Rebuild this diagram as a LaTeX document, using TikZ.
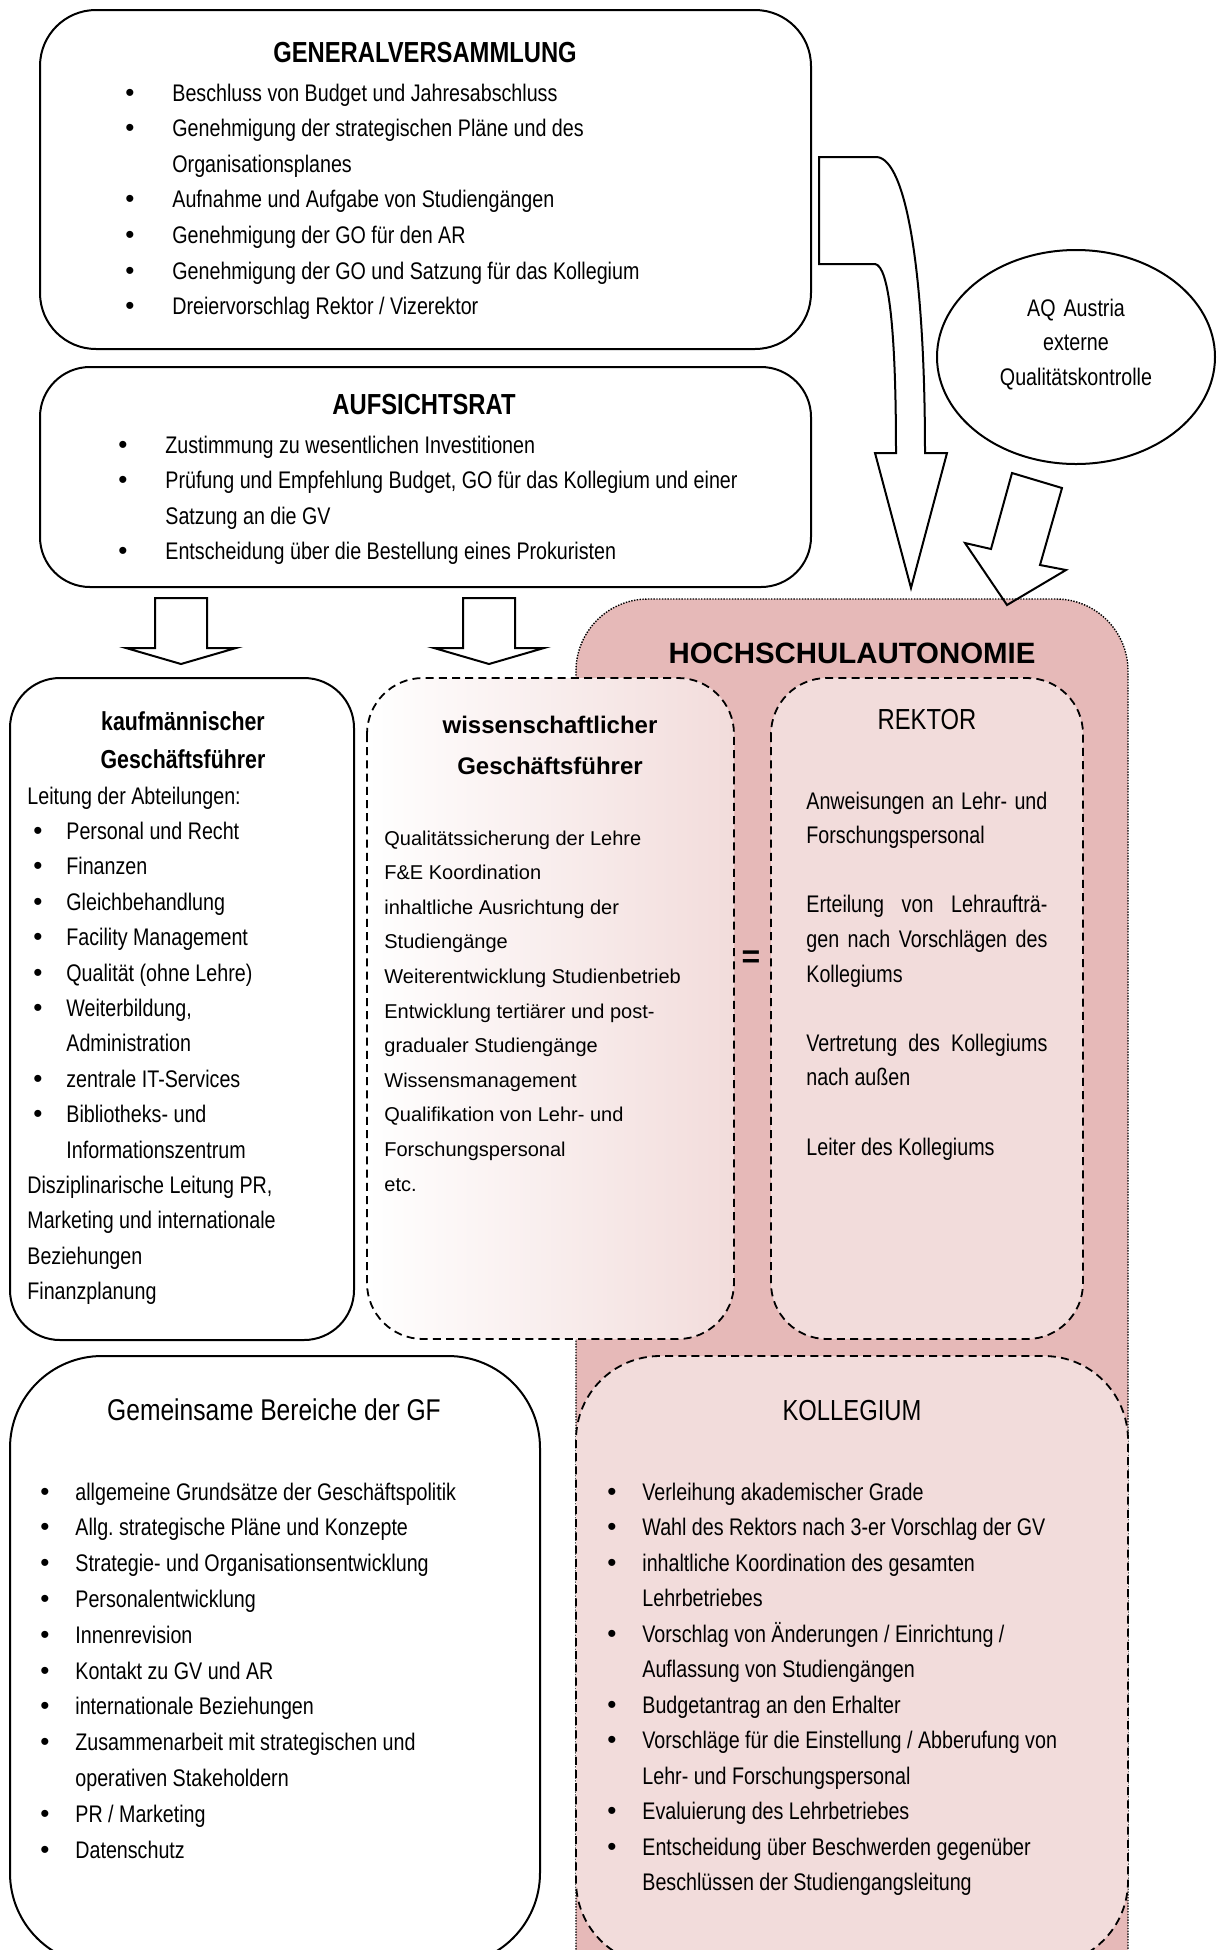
\documentclass[tikz,border=0pt]{standalone}
\usepackage{fontspec}
\setmainfont{Liberation Sans}[FakeStretch=0.82]
\newfontfamily\wideface{Liberation Sans}
\usepackage{xcolor}
\usepackage{tikz}

\definecolor{hsrose}{HTML}{E6B9B8}
\definecolor{hslight}{HTML}{F2DCDB}

\newlength\bulgap
\newlength\bulind
\newcommand\natspace{\spaceskip=0pt\xspaceskip=0pt\relax}
\newcommand\bulmark{\llap{{\wideface\fontsize{13}{13}\selectfont\textbullet}\hspace{\bulgap}}}
\newcommand\firstbul{\leavevmode\leftskip=\bulind\relax\bulmark}
\newcommand\bul{\par\leftskip=\bulind\relax\noindent\bulmark}
\newcommand\nobul{\par\leftskip=0pt\relax\noindent}
\hyphenpenalty=10000
\frenchspacing

\tikzset{
	solidbox/.style={draw, fill=white, line width=1pt},
	dashbox/.style={draw, line width=0.9pt, dash pattern=on 4pt off 2.6pt},
	blockarrow/.style={draw, fill=white, line width=1pt},
	listtext/.style={inner sep=0pt, anchor=base west, align=left, text width=#1},
	headtext/.style={inner sep=0pt, align=center},
	body/.style={font=\fontsize{12}{#1}\selectfont},
}

\begin{document}
\begin{tikzpicture}[x=0.5pt, y=-0.5pt]
			\useasboundingbox (0,0) rectangle (1220,1950);
			\clip (0,0) rectangle (1220,1950);
			
			\draw[fill=hsrose, line width=0.7pt, dash pattern=on 0.7pt off 0.7pt, rounded corners=36pt] (576,2000) -- (576,599) -- (1128,599) -- (1128,2000);
			
			\draw[solidbox, rounded corners=28pt] (40,10) rectangle (811,349);
			\draw[solidbox, rounded corners=25pt] (40,367) rectangle (811,587);
			
			\begin{scope}[blockarrow]
				\draw (819,157) -- (877,157) .. controls (906,160) and (925,270) .. (925,453) -- (947,453) -- (911,588) -- (875,453) -- (896,453) .. controls (896,330) and (889,266) .. (875,264) -- (819,264) -- cycle;
				\draw (1012,473) -- (1062,488) -- (1040,565) -- (1066,570) -- (1007,605) -- (965,543) -- (991,549) -- cycle;
				\foreach \ax in {181,489}
				{
					\draw (\ax-26,598) -- (\ax+26,598) -- (\ax+26,648) -- (\ax+55,648) -- (\ax,664) -- (\ax-55,648) -- (\ax-26,648) -- cycle;
				}
			\end{scope}
			
			\draw[line width=1pt] (1076,357) ellipse [x radius=69.5pt, y radius=53.5pt];
			
			\draw[solidbox, rounded corners=25pt] (10,678) rectangle (354,1340);
			\draw[dashbox, left color=white, right color=hslight, rounded corners=28pt] (367,678) rectangle (734,1339);
			\draw[dashbox, fill=hslight, rounded corners=28pt] (771,678) rectangle (1083,1339);
			\draw[dashbox, fill=hslight, rounded corners=42pt] (576,1356) rectangle (1128,1965);
			\draw[solidbox, rounded corners=46pt] (10,1356) rectangle (540,1965);
			
			\node[headtext, font=\fontsize{14.5}{17}\selectfont\bfseries] (gvtitle) at (425,53) {GENERALVERSAMMLUNG};
			\node[listtext=300pt, body=17.83pt] (gvlist) at (172,101) {\natspace\setlength\bulgap{19pt}%
				\firstbul Beschluss von Budget und Jahresabschluss
				\bul Genehmigung der strategischen Pläne und des\newline Organisationsplanes
				\bul Aufnahme und Aufgabe von Studiengängen
				\bul Genehmigung der GO für den AR
				\bul Genehmigung der GO und Satzung für das Kollegium
				\bul Dreiervorschlag Rektor / Vizerektor};
			
			\node[headtext, font=\fontsize{14.5}{17}\selectfont\bfseries] (artitle) at (424,405) {AUFSICHTSRAT};
			\node[listtext=300pt, body=17.83pt] (arlist) at (165,453) {\natspace\setlength\bulgap{19pt}%
				\firstbul Zustimmung zu wesentlichen Investitionen
				\bul Prüfung und Empfehlung Budget, GO für das Kollegium und einer\newline Satzung an die GV
				\bul Entscheidung über die Bestellung eines Prokuristen};
			
			\node[headtext, anchor=base, text width=140pt, font=\fontsize{12}{17.25}\selectfont] (aqtext) at (1076,316) {AQ Austria\\externe\\Qualitätskontrolle};
			
			\node[headtext, font=\wideface\fontsize{14.7}{17}\selectfont\bfseries] (hstitle) at (852,653) {HOCHSCHULAUTONOMIE};
			
			\node[headtext, anchor=base, text width=150pt, font=\fontsize{13}{19}\selectfont\bfseries] (kftitle) at (183,730) {kaufmännischer\\Geschäftsführer};
			\node[listtext=170pt, body=17.7pt] (kflist) at (27,804) {\natspace\setlength\bulgap{12pt}\setlength\bulind{19.5pt}%
				Leitung der Abteilungen:
				\bul Personal und Recht
				\bul Finanzen
				\bul Gleichbehandlung
				\bul Facility Management
				\bul Qualität (ohne Lehre)
				\bul Weiterbildung,\newline Administration
				\bul zentrale IT-Services
				\bul Bibliotheks- und\newline Informationszentrum
				\nobul Disziplinarische Leitung PR,\newline Marketing und internationale\newline Beziehungen
				\nobul Finanzplanung};
			
			\node[headtext, anchor=base, text width=180pt, font=\wideface\fontsize{12}{20.5}\selectfont\bfseries] (wstitle) at (550,733) {wissenschaftlicher\\Geschäftsführer};
			\node[listtext=175pt, font=\wideface\fontsize{10}{17.3}\selectfont] (wslist) at (384,845) {\natspace Qualitätssicherung der Lehre\\F\&E Koordination\\inhaltliche Ausrichtung der\\Studiengänge\\Weiterentwicklung Studienbetrieb\\Entwicklung tertiärer und post-\\gradualer Studiengänge\\Wissensmanagement\\Qualifikation von Lehr- und\\Forschungspersonal\\etc.};
			
			\node[headtext, font=\wideface\fontsize{16}{17}\selectfont\bfseries] (equal) at (751,959) {=};
			
			\node[headtext, font=\fontsize{14.5}{17}\selectfont] (rktitle) at (927,720) {REKTOR};
			\node[listtext=120.5pt, align=justify, body=17.3pt] (rklist) at (806,809) {Anweisungen an Lehr- und\linebreak Forschungspersonal\par\vspace{17.3pt}
				Erteilung von Lehraufträ-\linebreak gen nach Vorschlägen des\linebreak Kollegiums\par\vspace{17.3pt}
				Vertretung des Kollegiums\linebreak nach außen\par\vspace{17.3pt}
				Leiter des Kollegiums};
			
			\node[headtext, font=\fontsize{14.5}{17}\selectfont] (kotitle) at (852,1410) {KOLLEGIUM};
			\node[listtext=240pt, body=17.75pt] (kolist) at (642,1500) {\natspace\setlength\bulgap{13pt}%
				\firstbul Verleihung akademischer Grade
				\bul Wahl des Rektors nach 3-er Vorschlag der GV
				\bul inhaltliche Koordination des gesamten\newline Lehrbetriebes
				\bul Vorschlag von Änderungen / Einrichtung /\newline Auflassung von Studiengängen
				\bul Budgetantrag an den Erhalter
				\bul Vorschläge für die Einstellung / Abberufung von\newline Lehr- und Forschungspersonal
				\bul Evaluierung des Lehrbetriebes
				\bul Entscheidung über Beschwerden gegenüber\newline Beschlüssen der Studiengangsleitung};
			
			\node[headtext, font=\fontsize{15}{17}\selectfont] (gmtitle) at (274,1410) {Gemeinsame Bereiche der GF};
			\node[listtext=230pt, body=17.9pt] (gmlist) at (75,1500) {\natspace\setlength\bulgap{13pt}%
				\firstbul allgemeine Grundsätze der Geschäftspolitik
				\bul Allg. strategische Pläne und Konzepte
				\bul Strategie- und Organisationsentwicklung
				\bul Personalentwicklung
				\bul Innenrevision
				\bul Kontakt zu GV und AR
				\bul internationale Beziehungen
				\bul Zusammenarbeit mit strategischen und\newline operativen Stakeholdern
				\bul PR / Marketing
				\bul Datenschutz};
		\end{tikzpicture}
\end{document}
